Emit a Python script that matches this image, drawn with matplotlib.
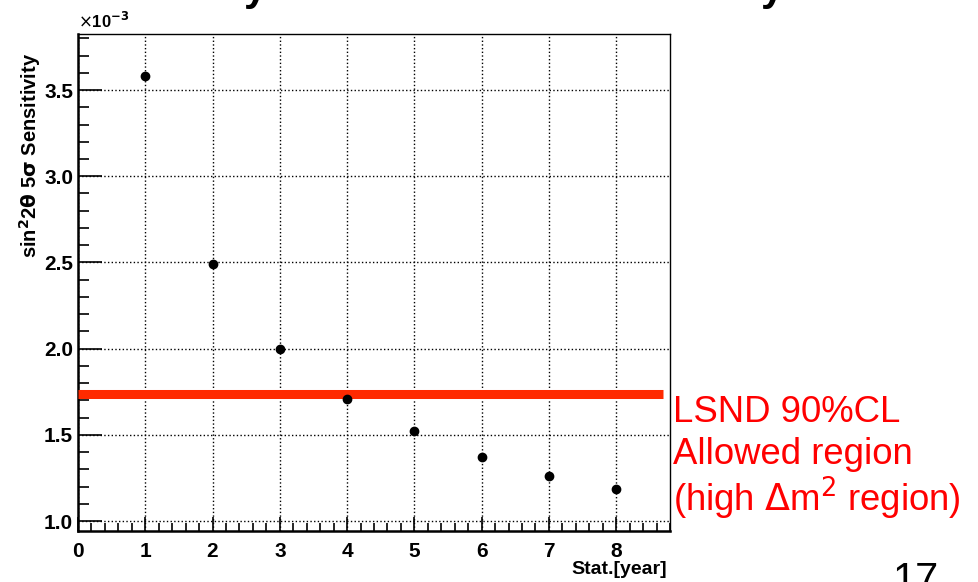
import numpy as np
import matplotlib.pyplot as plt
from matplotlib.ticker import MultipleLocator

plt.rcParams['font.family'] = ['Liberation Sans', 'DejaVu Sans']

# datos (sensibilidad en unidades de 1e-3)
years = [1, 2, 3, 4, 5, 6, 7, 8]
sensitivity = [3.58, 2.49, 2.00, 1.71, 1.52, 1.37, 1.26, 1.185]
lsnd_level = 1.737
lsnd_lines = ['LSND 90%CL', 'Allowed region', r'(high $\Delta$m$^2$ region)']

W, H = 979, 582
fig = plt.figure(figsize=(W / 100, H / 100), dpi=100)
ax = fig.add_axes([78 / W, 1 - 531 / H, (670 - 78) / W, (531 - 34) / H])

# linea LSND
ax.hlines(lsnd_level, 0, 8.7, colors='#ff2a00', linewidth=6.5, zorder=3,
          capstyle='butt')

# puntos de sensibilidad
ax.plot(years, sensitivity, 'o', color='black', markersize=6, zorder=4)

ax.set_xlim(0, 8.8)
ax.set_ylim(0.942, 3.825)
ax.xaxis.set_major_locator(MultipleLocator(1))
ax.xaxis.set_minor_locator(MultipleLocator(0.2))
ax.yaxis.set_major_locator(MultipleLocator(0.5))
ax.yaxis.set_minor_locator(MultipleLocator(0.1))
ax.yaxis.set_major_formatter(plt.FormatStrFormatter('%.1f'))
ax.grid(True, which='major', color='black', linestyle=':', linewidth=1)

ax.tick_params(which='both', direction='in', top=False, right=False,
               labelsize=15, width=1.2)
ax.tick_params(axis='y', which='major', length=17)
ax.tick_params(axis='y', which='minor', length=8)
ax.tick_params(axis='x', which='major', length=10, pad=8)
ax.tick_params(axis='x', which='minor', length=6)
for lbl in ax.get_xticklabels() + ax.get_yticklabels():
    lbl.set_fontweight('bold')
ax.spines['left'].set_linewidth(1.8)
ax.spines['bottom'].set_linewidth(1.8)
ax.spines['top'].set_linewidth(1.0)
ax.spines['right'].set_linewidth(1.0)

# etiquetas de los ejes al estilo ROOT
fig.text(30 / W, 1 - 155 / H, r'sin$^\mathbf{2}$2$\mathbf{\theta}$ 5$\mathbf{\sigma}$ Sensitivity',
         rotation=90, ha='center', va='center', fontsize=14.5, fontweight='bold')
fig.text(78 / W, 1 - 21 / H, r'$\times$10$^{\mathbf{-3}}$', ha='left', va='center',
         fontsize=12, fontweight='bold')
fig.text(667 / W, 1 - 570 / H, 'Stat.[year]', ha='right', va='center',
         fontsize=14, fontweight='bold')

# texto LSND
for i, line in enumerate(lsnd_lines):
    fig.text(673 / W, 1 - (412 + 43 * i) / H, line, ha='left', va='center',
             fontsize=26.3, color='#ff0000')

# numero de pagina y restos del titulo cortado
fig.text(916 / W, 1 - 561 / H, '17', ha='center', va='top', fontsize=30)
for xp in [255, 772]:
    fig.text(xp / W, 1.0, 'y', ha='center', va='baseline', fontsize=30,
             fontweight='bold')

fig.savefig('out.png', dpi=100)
